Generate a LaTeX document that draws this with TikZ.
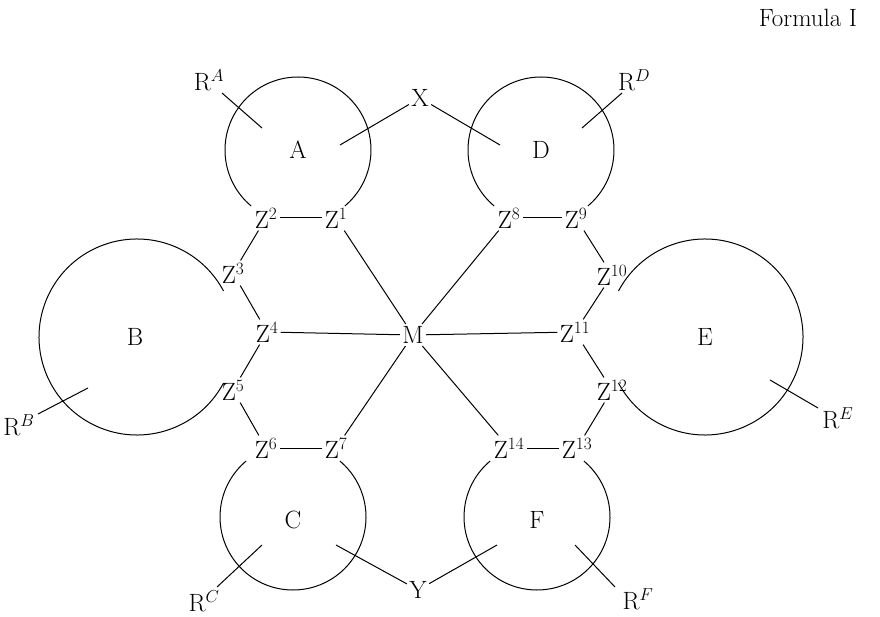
\documentclass[tikz,border=0pt]{standalone}
\begin{document}
\begin{tikzpicture}[x=1pt,y=-1pt,line width=1pt,
  lab/.style={font=\fontsize{25}{29}\selectfont,inner sep=2pt}]
\useasboundingbox (0,0) rectangle (880,617);
\node[lab] (f) at (808,18) {Formula I};
\node[lab] (A) at (298,150) {A};
\node[lab] (D) at (541,150) {D};
\node[lab] (B) at (135,337) {B};
\node[lab] (E) at (705,337) {E};
\node[lab] (C) at (293,520) {C};
\node[lab] (F) at (537,520) {F};
\draw (298,150) ++(130:73) arc (130:410:73);
\draw (541,150) ++(130:73) arc (130:410:73);
\draw (293,517) ++(-50:73) arc (-50:230:73);
\draw (537,517) ++(-50:73) arc (-50:230:73);
\draw (137,337) ++(28:98) arc (28:332:98);
\draw (705,337) ++(-152:98) arc (-152:152:98);
\node[lab] (z2) at (266,218) {Z$^2$};
\node[lab] (z1) at (336,218) {Z$^1$};
\node[lab] (z3) at (233,273) {Z$^3$};
\node[lab] (z4) at (267,332) {Z$^4$};
\node[lab] (z5) at (233,390) {Z$^5$};
\node[lab] (z6) at (266,448) {Z$^6$};
\node[lab] (z7) at (336,448) {Z$^7$};
\node[lab] (M) at (413,335) {M};
\node[lab] (z8) at (509,218) {Z$^8$};
\node[lab] (z9) at (576,218) {Z$^9$};
\node[lab] (z10) at (612,275) {Z$^{10}$};
\node[lab] (z11) at (575,332) {Z$^{11}$};
\node[lab] (z12) at (612,390) {Z$^{12}$};
\node[lab] (z13) at (577,448) {Z$^{13}$};
\node[lab] (z14) at (509,448) {Z$^{14}$};
\node[lab] (X) at (420,98) {X};
\node[lab] (Y) at (418,590) {Y};
\node[lab] (RA) at (209,80) {R$^A$};
\node[lab] (RD) at (634,80) {R$^D$};
\node[lab] (RB) at (19,425) {R$^B$};
\node[lab] (RE) at (838,418) {R$^E$};
\node[lab] (RC) at (204,601) {R$^C$};
\node[lab] (RF) at (638,599) {R$^F$};
\coordinate (xa) at (340,145); \coordinate (xd) at (500,145);
\coordinate (ya) at (336,545); \coordinate (yf) at (497,545);
\coordinate (ra) at (262,128); \coordinate (rd) at (582,128);
\coordinate (rb) at (88,388); \coordinate (re) at (770,380);
\coordinate (rc) at (262,545); \coordinate (rf) at (575,545);
\draw (X)--(xa); \draw (X)--(xd); \draw (Y)--(ya); \draw (Y)--(yf);
\draw (222,93)--(ra); \draw (622,93)--(rd); \draw (38,414)--(rb);
\draw (818,408)--(re); \draw (217,587)--(rc); \draw (615,587)--(rf);
\draw (z2)--(z1); \draw (z2)--(z3); \draw (z3)--(z4); \draw (z4)--(z5);
\draw (z5)--(z6); \draw (z6)--(z7); \draw (z8)--(z9); \draw (z9)--(z10);
\draw (z10)--(z11); \draw (z11)--(z12); \draw (z12)--(z13); \draw (z13)--(z14);
\draw (M)--(z1); \draw (M)--(z4); \draw (M)--(z7); \draw (M)--(z8);
\draw (M)--(z11); \draw (M)--(z14);
\end{tikzpicture}
\end{document}
